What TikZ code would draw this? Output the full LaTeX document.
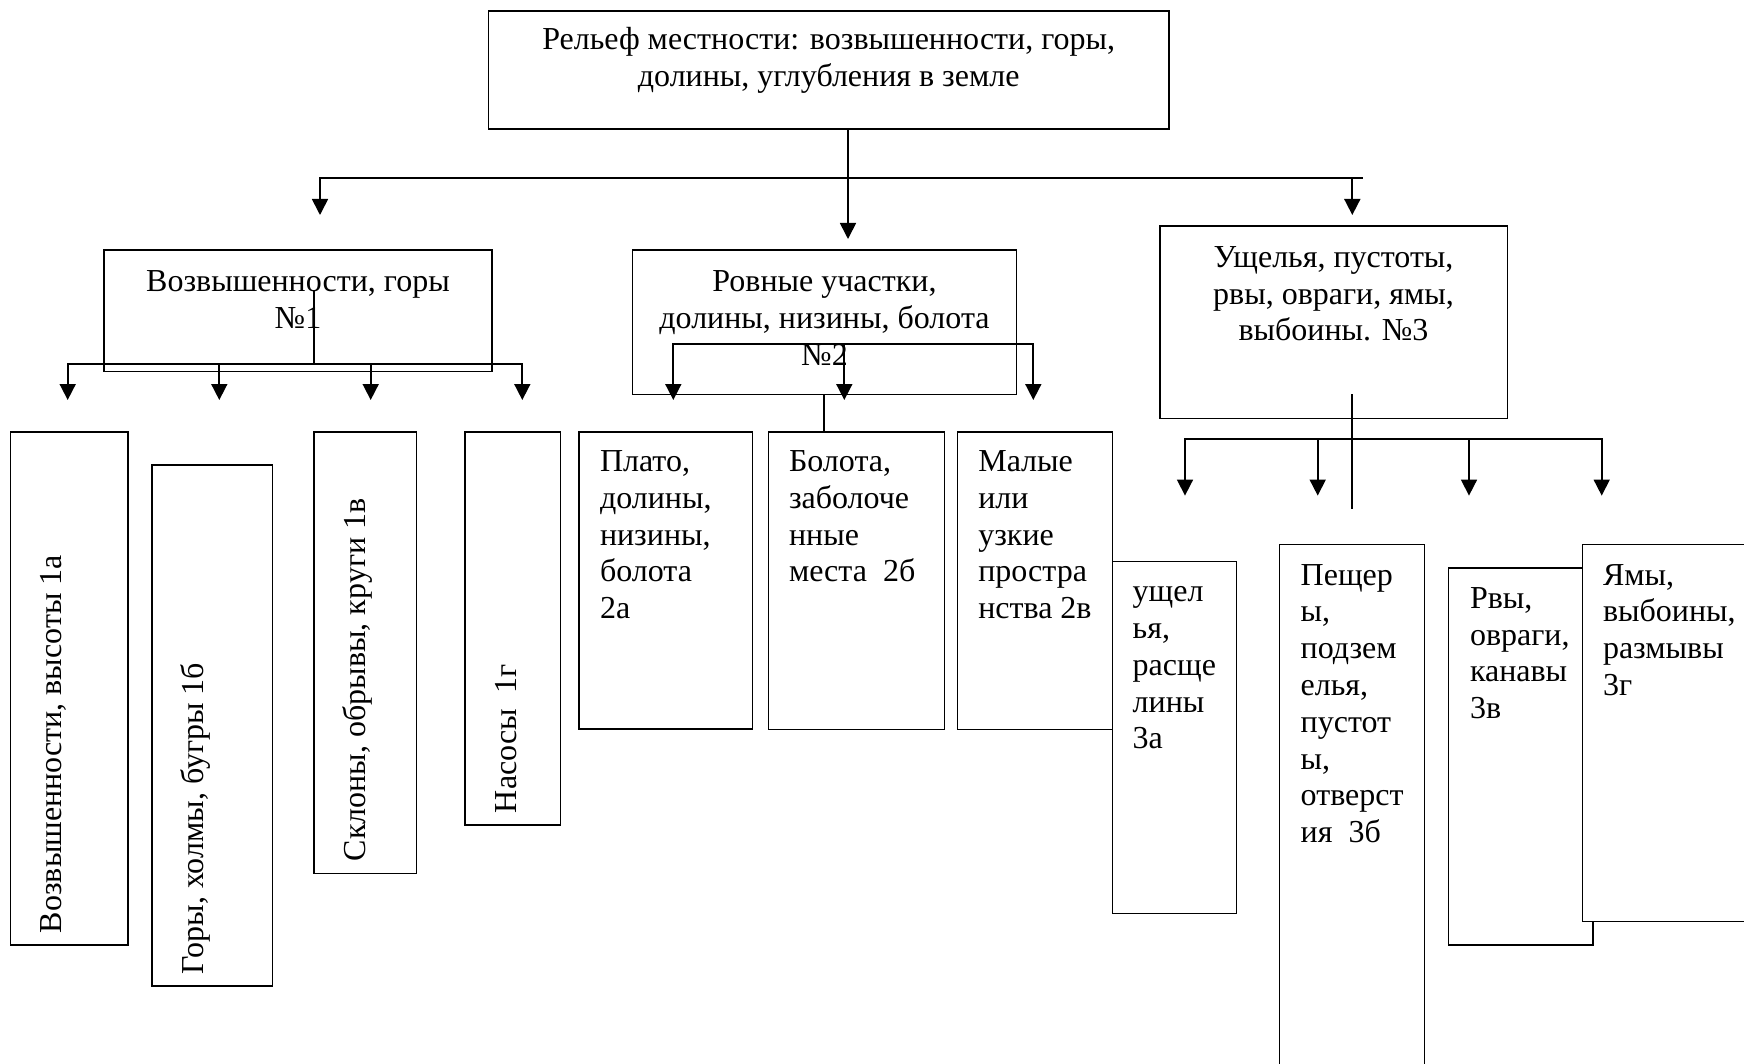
\documentclass[tikz,border=0pt]{standalone}
\usepackage{fontspec}
\setmainfont{Liberation Serif}
\usetikzlibrary{arrows.meta}
\newcommand\boxtext[2]{\begin{tabular}[t]{@{}#1@{}}#2\end{tabular}}
\begin{document}
\begin{tikzpicture}[x=1pt,y=-1pt,
  box/.style={draw, line width=1.5pt, outer sep=0pt, inner sep=0pt, anchor=north west},
  wbox/.style={box, fill=white},
  txt/.style={inner sep=0pt, outer sep=0pt, font=\fontsize{32}{36.8}\selectfont},
  ctxt/.style={txt, anchor=base},
  ltxt/.style={txt, anchor=base west},
  vtxt/.style={txt, anchor=base west, rotate=90},
  conn/.style={line width=1.7pt},
  arr/.style={conn, -{Triangle[width=16pt,length=16pt]}}]
\useasboundingbox (0,0) rectangle (1744,1064);
\fill[white] (0,0) rectangle (1744,1064);
\clip (0,0) rectangle (1744,1064);
% boxes
\node[box, minimum width=680.7pt, minimum height=118pt] (b0) at (488.3,11) {};
\node[box, minimum width=388pt, minimum height=121.7pt] (b1) at (104,250) {};
\node[box, minimum width=384.4pt, minimum height=144.3pt] (b2) at (632.3,250) {};
\node[box, minimum width=347.3pt, minimum height=192.3pt] (b3) at (1160,226) {};
\node[box, minimum width=117.7pt, minimum height=513pt] (b1a) at (10.3,432) {};
\node[box, minimum width=120.5pt, minimum height=521pt] (b1b) at (152,465) {};
\node[box, minimum width=102.5pt, minimum height=441.4pt] (b1c) at (314,432) {};
\node[box, minimum width=95.7pt, minimum height=392.8pt] (b1d) at (465,432) {};
\node[box, minimum width=173.7pt, minimum height=297pt] (b2a) at (579,432) {};
\node[box, minimum width=176pt, minimum height=297.5pt] (b2b) at (768.3,432) {};
\node[box, minimum width=155pt, minimum height=297.5pt] (b2c) at (957.5,432) {};
\node[box, minimum width=124.4pt, minimum height=352pt] (b3a) at (1112.3,561.7) {};
\node[box, minimum width=145pt, minimum height=600pt] (b3b) at (1279.3,544.7) {};
\node[box, minimum width=144.3pt, minimum height=377pt] (b3c) at (1448.7,568) {};
\node[wbox, minimum width=300pt, minimum height=376.8pt] (b3d) at (1582.7,544.7) {};
% texts
\node[ctxt] (t0) at (828.7,50) {\boxtext{c}{Рельеф местности: возвышенности, горы,\\долины, углубления в земле}};
\node[ctxt] (t1) at (298,291.7) {\boxtext{c}{Возвышенности, горы\\№1}};
\node[ctxt] (t2) at (824.5,291.7) {\boxtext{c}{Ровные участки,\\долины, низины, болота\\№2}};
\node[ctxt] (t3) at (1333.5,267.3) {\boxtext{c}{Ущелья, пустоты,\\рвы, овраги, ямы,\\выбоины. №3}};
\node[vtxt] (t1a) at (61.5,933) {Возвышенности, высоты 1а};
\node[vtxt] (t1b) at (203.5,974) {Горы, холмы, бугры 1б};
\node[vtxt] (t1c) at (365.5,861) {Склоны, обрывы, круги 1в};
\node[vtxt] (t1d) at (516.5,813) {Насосы~~1г};
\node[ltxt] (t2a) at (600,471.5) {\boxtext{l}{Плато,\\долины,\\низины,\\болота\\2а}};
\node[ltxt] (t2b) at (789,471.5) {\boxtext{l}{Болота,\\заболоче\\нные\\места~~2б}};
\node[ltxt] (t2c) at (978.3,471.5) {\boxtext{l}{Малые\\или\\узкие\\простра\\нства 2в}};
\node[ltxt] (t3a) at (1132.7,601.7) {\boxtext{l}{ущел\\ья,\\расще\\лины\\3а}};
\node[ltxt] (t3b) at (1300.7,585) {\boxtext{l}{Пещер\\ы,\\подзем\\елья,\\пустот\\ы,\\отверст\\ия~~3б}};
\node[ltxt] (t3c) at (1470,608.3) {\boxtext{l}{Рвы,\\овраги,\\канавы\\3в}};
\node[ltxt] (t3d) at (1603,585) {\boxtext{l}{Ямы,\\выбоины,\\размывы\\3г}};
% coordinates
\coordinate (m0) at (848,178.3);
\coordinate (mR) at (1362.7,178.3);
\coordinate (a0) at (848,239);
\coordinate (aL) at (320,215);
\coordinate (aR) at (1352.3,215);
\coordinate (s1top) at (314,290);
\coordinate (s1) at (314,363.7);
\coordinate (a1a) at (67.7,400);
\coordinate (a1b) at (219.3,400);
\coordinate (a1c) at (370.7,400);
\coordinate (a1d) at (522.3,400);
\coordinate (s2) at (844.3,344.3);
\coordinate (a2a) at (673.3,400);
\coordinate (a2b) at (844.3,400);
\coordinate (a2c) at (1033.3,400);
\coordinate (c2) at (824.3,400);
\coordinate (v3top) at (1352.3,394.3);
\coordinate (v3bot) at (1352.3,508.7);
\coordinate (s3) at (1352.3,439.3);
\coordinate (a3a) at (1185,495.6);
\coordinate (a3b) at (1317.7,495.6);
\coordinate (a3c) at (1469,495.6);
\coordinate (a3d) at (1601.7,495.6);
% connectors: top level
\draw[arr] (b0.south -| a0) -- (a0);
\draw[arr] (m0) -| (aL);
\draw[conn] (m0) -- (mR);
\draw[arr] (mR -| aR) -- (aR);
% group 1
\draw[conn] (s1top) -- (s1);
\draw[arr] (s1) -| (a1a);
\draw[arr] (s1) -| (a1d);
\draw[arr] (s1 -| a1b) -- (a1b);
\draw[arr] (s1 -| a1c) -- (a1c);
% group 2
\draw[arr] (s2) -| (a2a);
\draw[arr] (s2) -| (a2c);
\draw[arr] (s2) -- (a2b);
\draw[conn] (b2.south -| c2) -- (b2b.north -| c2);
% group 3
\draw[conn] (v3top) -- (v3bot);
\draw[arr] (s3) -| (a3a);
\draw[arr] (s3) -| (a3d);
\draw[arr] (s3 -| a3b) -- (a3b);
\draw[arr] (s3 -| a3c) -- (a3c);
\end{tikzpicture}
\end{document}
